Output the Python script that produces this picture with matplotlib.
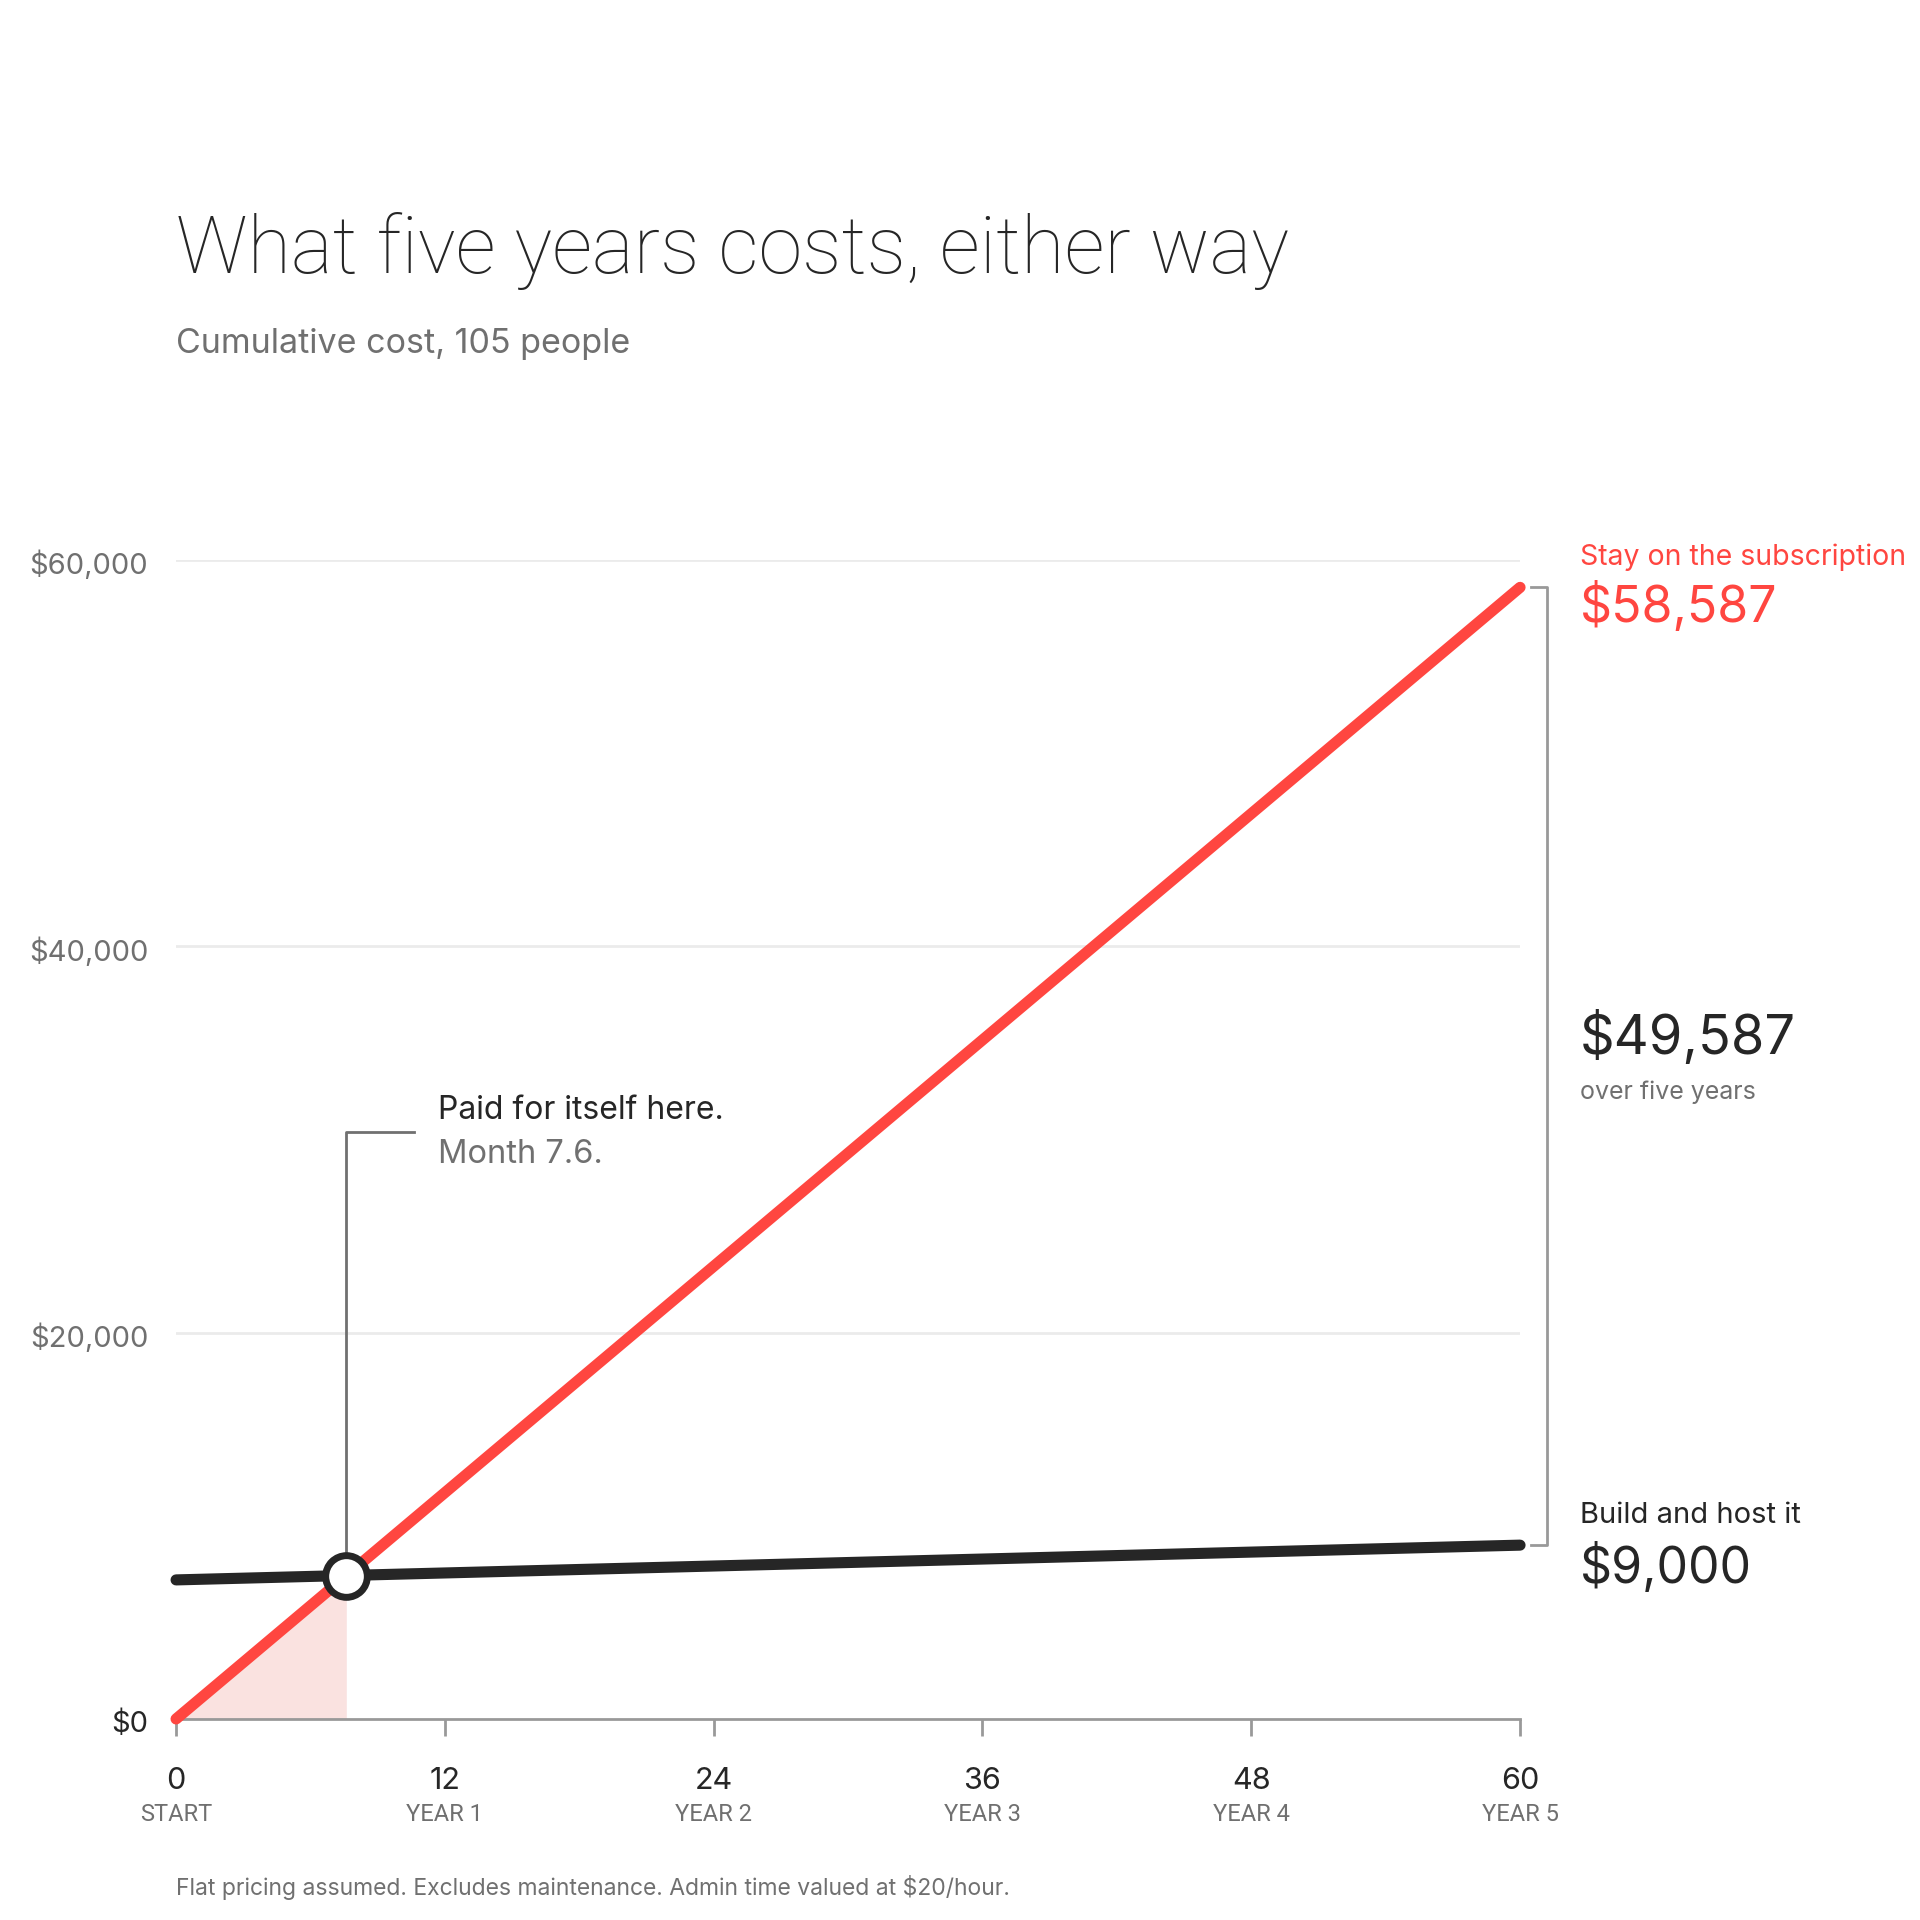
import matplotlib
matplotlib.use("Agg")
import matplotlib.pyplot as plt
import matplotlib.transforms as mtransforms

# data
months = [0, 60]
subscription = [0, 58587]
build_host = [7200, 9000]
breakeven_month = 7.6
x_ticks = [0, 12, 24, 36, 48, 60]
x_sub = ["START", "YEAR 1", "YEAR 2", "YEAR 3", "YEAR 4", "YEAR 5"]
y_ticks = [0, 20000, 40000, 60000]
y_labels = ["$0", "$20,000", "$40,000", "$60,000"]

RED = "#ff4640"
DARK = "#262626"
GRAY = "#707070"
LIGHT = "#999999"

plt.rcParams['font.family'] = ['Inter', 'DejaVu Sans']

fig = plt.figure(figsize=(19.2, 19.2), dpi=100)
ax = fig.add_axes([0.0917, 0.1047, 0.7, 0.6036])
ax.set_xlim(0, 60)
ax.set_ylim(0, 60000)
for s in ["top", "right", "left"]:
    ax.spines[s].set_visible(False)
ax.spines["bottom"].set_color(LIGHT)
ax.spines["bottom"].set_linewidth(2)
ax.spines["bottom"].set_zorder(1)

# grid
for v in y_ticks[1:]:
    ax.axhline(v, color="#ebebeb", lw=2, zorder=0)

ax.set_yticks(y_ticks)
ax.set_yticklabels(y_labels)
ax.tick_params(axis="y", length=0, pad=20, labelsize=21, labelcolor=GRAY)
shift = mtransforms.ScaledTranslation(0, -4 / 72, fig.dpi_scale_trans)
for lab in ax.get_yticklabels():
    lab.set_verticalalignment("center")
    lab.set_transform(lab.get_transform() + shift)
ax.get_yticklabels()[0].set_color(DARK)

ax.set_xticks(x_ticks)
ax.set_xticklabels([])
ax.tick_params(axis="x", length=12, width=2, color=LIGHT, direction="out")
xt = ax.get_xaxis_transform()
for t, sub in zip(x_ticks, x_sub):
    ax.annotate(str(t), (t, 0), xycoords=xt, xytext=(0, -45), textcoords="offset points",
                ha="center", va="center", fontsize=22, color=DARK)
    ax.annotate(sub, (t, 0), xycoords=xt, xytext=(0, -69),
                textcoords="offset points", ha="center", va="center", fontsize=17,
                color=GRAY, family=["Roboto", "DejaVu Sans"])

# shaded payback region
be_val = subscription[1] / months[1] * breakeven_month
ax.fill_between([0, breakeven_month], [0, 0], [0, be_val], color="#fae2e0", lw=0, zorder=1)

# lines
ax.plot(months, build_host, color=DARK, lw=8, solid_capstyle="round", zorder=3, clip_on=False)
ax.plot(months, subscription, color=RED, lw=8, solid_capstyle="round", zorder=4, clip_on=False)

# breakeven marker
be_y = build_host[0] + (build_host[1] - build_host[0]) / months[1] * breakeven_month
ax.plot([breakeven_month], [be_y], marker="o", ms=30, mfc="white", mec=DARK, mew=5, zorder=5)

# annotation leader
elbow_y = 30400
ax.plot([breakeven_month, breakeven_month, 10.6], [be_y, elbow_y, elbow_y],
        color=GRAY, lw=2, zorder=2)
ax.text(11.7, elbow_y + 1100, "Paid for itself here.", fontsize=23, color=DARK, va="center")
ax.text(11.7, elbow_y - 1200, f"Month {breakeven_month}.", fontsize=23.5, color=GRAY, va="center")

# bracket on the right
ax.plot([60.5, 61.2, 61.2, 60.5], [subscription[1], subscription[1], build_host[1], build_host[1]],
        color=LIGHT, lw=2, clip_on=False, zorder=2)

tx = 60 + 60 / 22.4
ax.annotate("Stay on the subscription", (tx, subscription[1]), xytext=(0, 22),
            textcoords="offset points", fontsize=20.5, color=RED, va="center", annotation_clip=False)
ax.annotate(f"${subscription[1]:,}", (tx, subscription[1]), xytext=(0, -14),
            textcoords="offset points", fontsize=36, color=RED, va="center", annotation_clip=False)

mid = (subscription[1] + build_host[1]) / 2
diff = subscription[1] - build_host[1]
ax.annotate(f"${diff:,}", (tx, mid), xytext=(0, 21),
            textcoords="offset points", fontsize=39, color=DARK, va="center", annotation_clip=False)
ax.annotate("over five years", (tx, mid), xytext=(0, -19),
            textcoords="offset points", fontsize=18, color=GRAY, va="center", annotation_clip=False)

ax.annotate("Build and host it", (tx, build_host[1]), xytext=(0, 21),
            textcoords="offset points", fontsize=21, color=DARK, va="center", annotation_clip=False)
ax.annotate(f"${build_host[1]:,}", (tx, build_host[1]), xytext=(0, -16),
            textcoords="offset points", fontsize=36, color=DARK, va="center", annotation_clip=False)

# titles
fig.text(0.0917, 0.858, "What five years costs, either way", fontsize=57, color=DARK,
         fontweight="light", va="baseline", family=["Roboto", "DejaVu Sans"])
fig.text(0.0917, 0.816, "Cumulative cost, 105 people", fontsize=24.5, color=GRAY, va="baseline")
fig.text(0.0917, 0.017, "Flat pricing assumed. Excludes maintenance. Admin time valued at $20/hour.",
         fontsize=16.5, color=GRAY, va="center")

fig.savefig("out.png", dpi=100, facecolor="white")
